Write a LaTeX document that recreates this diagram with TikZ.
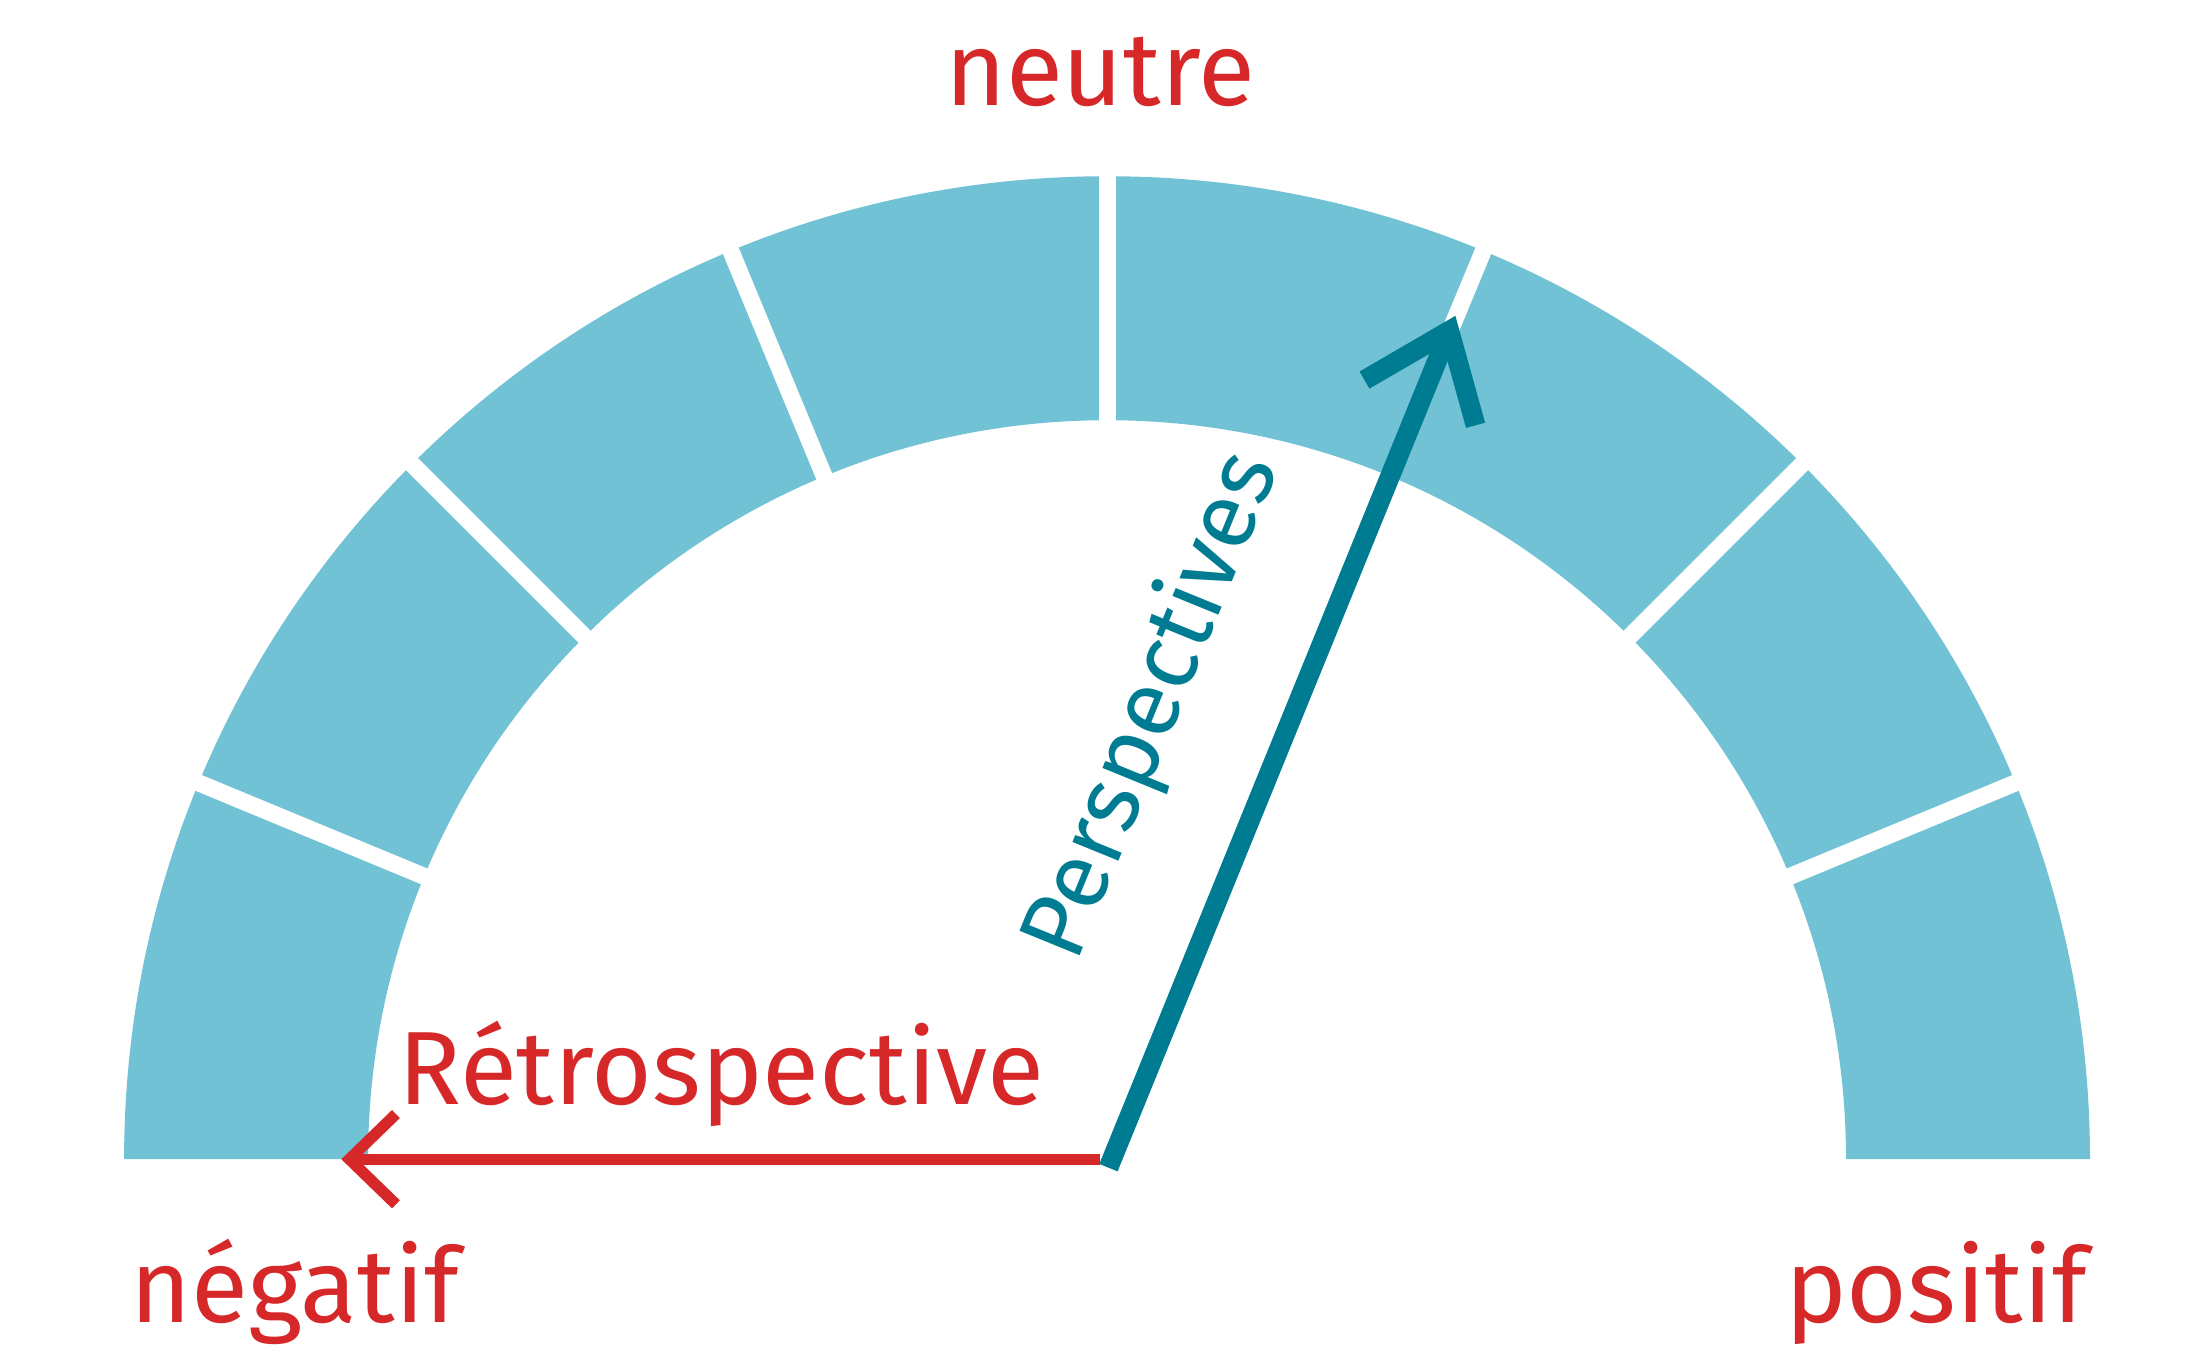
\documentclass[tikz,border=0pt]{standalone}
\usepackage{fontspec}
\setmainfont{Fira Sans}
\usetikzlibrary{calc, arrows.meta}
\definecolor{gaugeblue}{HTML}{72C2D5}
\definecolor{needleteal}{HTML}{007C92}
\definecolor{labelred}{HTML}{D62828}

\begin{document}
\begin{tikzpicture}[
    x=0.01cm, y=0.01cm,
    gap/.style={white, line width=0.12cm},
    big_label/.style={text=labelred, font=\fontsize{21}{25}\selectfont, inner sep=0pt},
    needle/.style={needleteal, line width=0.14cm, -{Straight Barb[length=0.55cm, width=0.85cm, line width=0.14cm]}},
    back_arrow/.style={labelred, line width=0.08cm, -{Straight Barb[length=0.33cm, width=0.64cm, line width=0.08cm]}}
]
    \useasboundingbox (0,0) rectangle (1560,968);

    % Gauge
    \coordinate (ctr) at (785,146);
    \fill[gaugeblue] (ctr) ++(0:697) arc (0:180:697) -- ++(173,0) arc (180:0:524) -- cycle;
    \foreach \a in {22.5,45,67.5,90,112.5,135,157.5} {
        \draw[gap] ($(ctr)+(\a:520)$) -- ($(ctr)+(\a:705)$);
    }

    % Labels
    \node[big_label, anchor=base] (neutre) at (780,893) {neutre};
    \node[big_label, anchor=base west] (negatif) at (92,30) {négatif};
    \node[big_label, anchor=base east] (positif) at (1481,30) {positif};
    \node[big_label, anchor=base west] (retro) at (282,185) {Rétrospective};

    % Arrows
    \coordinate (redTip) at (242,146);
    \coordinate (blueTip) at (1032,744);
    \draw[back_arrow] (780,146) -- (redTip);
    \draw[needle] (786,140) -- (blueTip);
    \node[text=needleteal, font=\fontsize{19}{23}\selectfont, rotate=67.8, anchor=base] (persp) at (835,460) {Perspectives};

\end{tikzpicture}
\end{document}
